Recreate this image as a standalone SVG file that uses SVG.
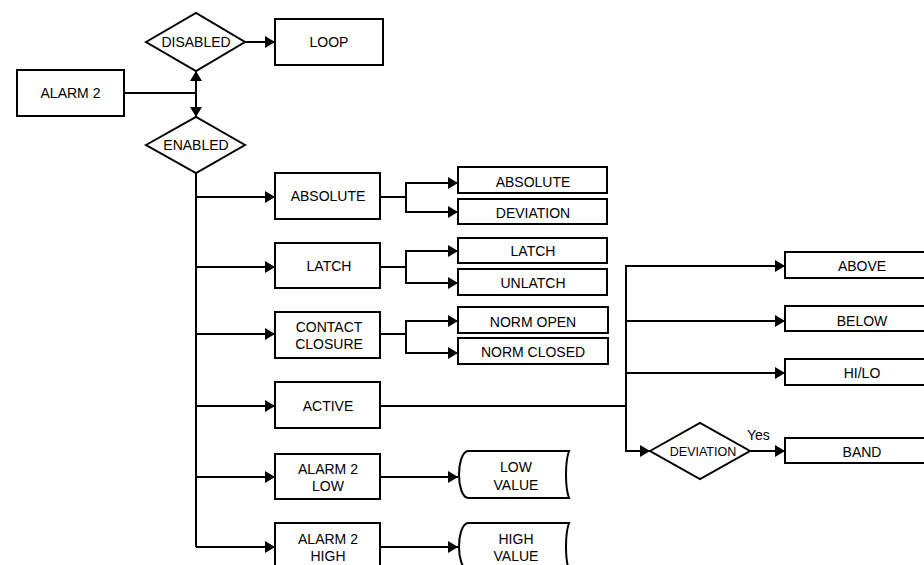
<svg xmlns="http://www.w3.org/2000/svg" width="924" height="565" viewBox="0 0 924 565">
<style>
.b{fill:#fff;stroke:#000;stroke-width:2}
.c{fill:none;stroke:#000;stroke-width:2}
text{font-family:"Liberation Sans",Arial,sans-serif;font-size:14px;fill:#000;text-anchor:middle;dominant-baseline:central}
.s{font-size:12.5px}
</style>
<defs>
<marker id="ar" markerUnits="userSpaceOnUse" markerWidth="10" markerHeight="12" refX="10" refY="6" orient="auto">
<path d="M0,0 L10,6 L0,12 Z" fill="#000"/>
</marker>
</defs>
<rect width="924" height="565" fill="#fff"/>
<g id="connectors" class="c">
<path d="M124,93 H196"/>
<path d="M196,93 V71" marker-end="url(#ar)"/>
<path d="M196,93 V117" marker-end="url(#ar)"/>
<path d="M245,42 H275" marker-end="url(#ar)"/>
<path d="M196,173 V547"/>
<path d="M196,197 H275" marker-end="url(#ar)"/>
<path d="M196,267 H275" marker-end="url(#ar)"/>
<path d="M196,334 H275" marker-end="url(#ar)"/>
<path d="M196,406 H275" marker-end="url(#ar)"/>
<path d="M196,477 H275" marker-end="url(#ar)"/>
<path d="M196,547 H275" marker-end="url(#ar)"/>
<path d="M380,197 H406"/>
<path d="M406,197 V183 H458" marker-end="url(#ar)"/>
<path d="M406,197 V212 H458" marker-end="url(#ar)"/>
<path d="M380,267 H406"/>
<path d="M406,267 V251 H458" marker-end="url(#ar)"/>
<path d="M406,267 V283 H458" marker-end="url(#ar)"/>
<path d="M380,334 H406"/>
<path d="M406,334 V321 H458" marker-end="url(#ar)"/>
<path d="M406,334 V353 H458" marker-end="url(#ar)"/>
<path d="M380,477 H458" marker-end="url(#ar)"/>
<path d="M380,547 H458" marker-end="url(#ar)"/>
<path d="M380,406 H626"/>
<path d="M626,406 V266 H785" marker-end="url(#ar)"/>
<path d="M626,321 H785" marker-end="url(#ar)"/>
<path d="M626,373 H785" marker-end="url(#ar)"/>
<path d="M626,406 V451 H650" marker-end="url(#ar)"/>
<path d="M750,451 H785" marker-end="url(#ar)"/>
</g>
<g id="alarm2"><rect class="b" x="17" y="70" width="107" height="46"/><text x="70.5" y="93">ALARM 2</text></g>
<g id="disabled"><polygon class="b" points="146,42 196,13 245,42 196,71"/><text x="196" y="42">DISABLED</text></g>
<g id="loop"><rect class="b" x="275" y="19" width="108" height="46"/><text x="329" y="42">LOOP</text></g>
<g id="enabled"><polygon class="b" points="146,145 196,117 245,145 196,173"/><text x="196" y="145">ENABLED</text></g>
<g id="absolute"><rect class="b" x="275" y="173" width="105" height="46"/><text x="328" y="196">ABSOLUTE</text></g>
<g id="latch"><rect class="b" x="275" y="243" width="105" height="45"/><text x="329" y="266">LATCH</text></g>
<g id="contact"><rect class="b" x="275" y="312" width="105" height="46"/><text x="329" y="327">CONTACT</text><text x="329" y="344">CLOSURE</text></g>
<g id="active"><rect class="b" x="275" y="382" width="105" height="46"/><text x="328" y="405.5">ACTIVE</text></g>
<g id="alarm2low"><rect class="b" x="275" y="454" width="105" height="45"/><text x="328" y="469">ALARM 2</text><text x="328" y="486">LOW</text></g>
<g id="alarm2high"><rect class="b" x="275" y="523" width="105" height="46"/><text x="328" y="539">ALARM 2</text><text x="328" y="556">HIGH</text></g>
<g id="sub-absolute"><rect class="b" x="458" y="167" width="149" height="26"/><text x="533" y="181.5">ABSOLUTE</text></g>
<g id="sub-deviation"><rect class="b" x="458" y="199" width="149" height="25"/><text x="533" y="213">DEVIATION</text></g>
<g id="sub-latch"><rect class="b" x="458" y="238" width="149" height="25"/><text x="533" y="251">LATCH</text></g>
<g id="sub-unlatch"><rect class="b" x="458" y="269" width="149" height="26"/><text x="533" y="283">UNLATCH</text></g>
<g id="norm-open"><rect class="b" x="458" y="307" width="150" height="26"/><text x="533" y="321.5">NORM OPEN</text></g>
<g id="norm-closed"><rect class="b" x="458" y="338" width="150" height="26"/><text x="533" y="352">NORM CLOSED</text></g>
<g id="low-value"><path class="b" d="M468,451 H569 C565,462 565,487 569,498 H468 C456,496 456,453 468,451 Z"/><text x="516" y="467">LOW</text><text x="516" y="485">VALUE</text></g>
<g id="high-value"><path class="b" d="M468,523 H569 C565,534 565,559 569,570 H468 C456,568 456,525 468,523 Z"/><text x="516" y="539">HIGH</text><text x="516" y="556">VALUE</text></g>
<g id="above"><rect class="b" x="785" y="252" width="150" height="26"/><text x="862" y="266">ABOVE</text></g>
<g id="below"><rect class="b" x="785" y="306" width="150" height="25"/><text x="862" y="320.5">BELOW</text></g>
<g id="hilo"><rect class="b" x="785" y="359" width="150" height="26"/><text x="862" y="373">HI/LO</text></g>
<g id="deviation"><polygon class="b" points="650,451 700,423 750,451 700,479"/><text class="s" x="703" y="452">DEVIATION</text></g>
<g id="band"><rect class="b" x="785" y="438" width="150" height="25"/><text x="862" y="452">BAND</text></g>
<text x="747" y="440" style="text-anchor:start;dominant-baseline:auto;font-size:14px">Yes</text>
</svg>
